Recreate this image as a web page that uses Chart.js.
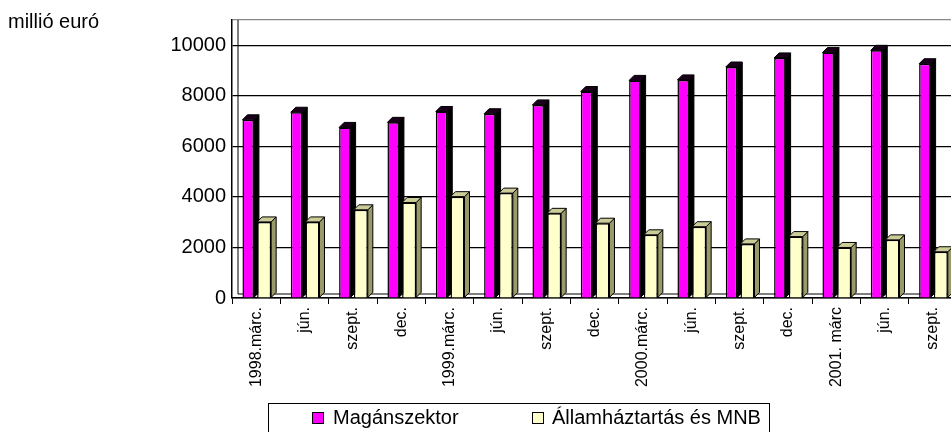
<!DOCTYPE html>
<html>
<head>
    <title>Magánszektor és Államháztartás</title>
    <script src="https://cdn.jsdelivr.net/npm/chart.js"></script>
    <style>
        body { margin: 0; width: 951px; height: 432px; overflow: hidden; background: #fff; font-family: Arial, "Liberation Sans", sans-serif; position: relative; }
        .chart-container { position: absolute; left: 0; top: 0; width: 957px; height: 432px; }
        .unit { position: absolute; left: 8px; top: 10px; font-size: 20px; color: #000; }
        .legend { position: absolute; left: 268px; top: 403px; width: 502px; height: 30px; border: 1px solid #000; box-sizing: border-box; font-size: 20px; }
        .legend span { position: absolute; top: 2px; white-space: nowrap; }
        .legend i { position: absolute; top: 8px; width: 10px; height: 10px; border: 1.5px solid #000; }
    </style>
</head>
<body>
    <div class="chart-container">
        <canvas id="debtChart"></canvas>
    </div>
    <div class="unit">millió euró</div>
    <div class="legend">
        <i style="left:43px; background:#ff00ff"></i><span style="left:64px">Magánszektor</span>
        <i style="left:263px; background:#ffffcc"></i><span style="left:283px">Államháztartás és MNB</span>
    </div>

    <script>
        // Data
        const labels = ['1998.márc.', 'jún.', 'szept.', 'dec.', '1999.márc.', 'jún.', 'szept.', 'dec.',
                        '2000.márc.', 'jún.', 'szept.', 'dec.', '2001. márc', 'jún.', 'szept.'];
        const privateSector = [7050, 7350, 6750, 6950, 7380, 7290, 7640, 8170, 8610, 8630, 9140, 9500, 9710, 9800, 9270];
        const publicSector = [3010, 3010, 3490, 3780, 4010, 4150, 3350, 2960, 2500, 2820, 2140, 2430, 2000, 2300, 1830];
        const yTicks = [0, 2000, 4000, 6000, 8000, 10000];

        const font = 'Arial, "Liberation Sans", sans-serif';
        const depth = 5;

        // fake 3D: side + top faces drawn behind each bar, plus the back wall edge
        const bars3d = {
            id: 'bars3d',
            beforeDatasetsDraw(chart) {
                const c = chart.ctx;
                const area = chart.chartArea;
                c.save();
                c.strokeStyle = '#000';
                c.lineWidth = 1;
                c.beginPath();
                c.moveTo(area.left + 6, area.top);
                c.lineTo(area.left + 6, area.bottom - 4);
                c.lineTo(area.right, area.bottom - 4);
                c.stroke();
                c.restore();

                chart.data.datasets.forEach((ds, i) => {
                    const meta = chart.getDatasetMeta(i);
                    meta.data.forEach(bar => {
                        const p = bar.getProps(['x', 'y', 'base', 'width'], true);
                        const l = p.x - p.width / 2, r = p.x + p.width / 2;
                        c.save();
                        c.lineWidth = 1;
                        c.strokeStyle = '#000';
                        // side
                        c.beginPath();
                        c.moveTo(r, p.y);
                        c.lineTo(r + depth, p.y - depth);
                        c.lineTo(r + depth, p.base - depth);
                        c.lineTo(r, p.base);
                        c.closePath();
                        c.fillStyle = ds.sideColor;
                        c.fill();
                        c.stroke();
                        // top
                        c.beginPath();
                        c.moveTo(l, p.y);
                        c.lineTo(l + depth, p.y - depth);
                        c.lineTo(r + depth, p.y - depth);
                        c.lineTo(r, p.y);
                        c.closePath();
                        c.fillStyle = ds.topColor;
                        c.fill();
                        c.stroke();
                        c.restore();
                    });
                });
            }
        };

        const ctx = document.getElementById('debtChart').getContext('2d');
        new Chart(ctx, {
            type: 'bar',
            data: {
                labels: labels,
                datasets: [
                    {
                        label: 'Magánszektor',
                        data: privateSector,
                        backgroundColor: '#ff00ff',
                        borderColor: '#000',
                        borderWidth: 1.5,
                        sideColor: '#000000',
                        topColor: '#1a001a',
                        barPercentage: 0.72,
                        categoryPercentage: 0.66
                    },
                    {
                        label: 'Államháztartás és MNB',
                        data: publicSector,
                        backgroundColor: '#ffffcc',
                        borderColor: '#000',
                        borderWidth: 1.5,
                        sideColor: '#99996a',
                        topColor: '#cccc99',
                        barPercentage: 0.88,
                        categoryPercentage: 0.66
                    }
                ]
            },
            options: {
                responsive: true,
                maintainAspectRatio: false,
                animation: false,
                layout: { padding: { top: 20, left: 0, right: 0, bottom: 0 } },
                plugins: {
                    legend: { display: false },
                    tooltip: { enabled: false }
                },
                scales: {
                    x: {
                        afterFit: s => { s.height = 134; },
                        grid: { drawOnChartArea: false, color: '#000', tickLength: 6, offset: true },
                        border: { color: '#000', width: 1.5 },
                        ticks: {
                            autoSkip: false,
                            minRotation: 90,
                            maxRotation: 90,
                            padding: 3,
                            color: '#000',
                            font: { family: font, size: 16 }
                        }
                    },
                    y: {
                        min: 0,
                        max: 11000,
                        afterFit: s => { s.width = 232; },
                        afterBuildTicks: s => {
                            s.ticks = yTicks.map(v => ({ value: v })).concat([{ value: 11000 }]);
                        },
                        grid: {
                            drawTicks: false,
                            color: c => c.tick && c.tick.value === 11000 ? '#888' : '#000',
                            lineWidth: 1.2
                        },
                        border: { color: '#000', width: 1.5 },
                        ticks: {
                            padding: 6,
                            color: '#000',
                            font: { family: font, size: 20 },
                            callback: v => yTicks.includes(v) ? String(v) : ''
                        }
                    }
                }
            },
            plugins: [bars3d]
        });
    </script>
</body>
</html>
